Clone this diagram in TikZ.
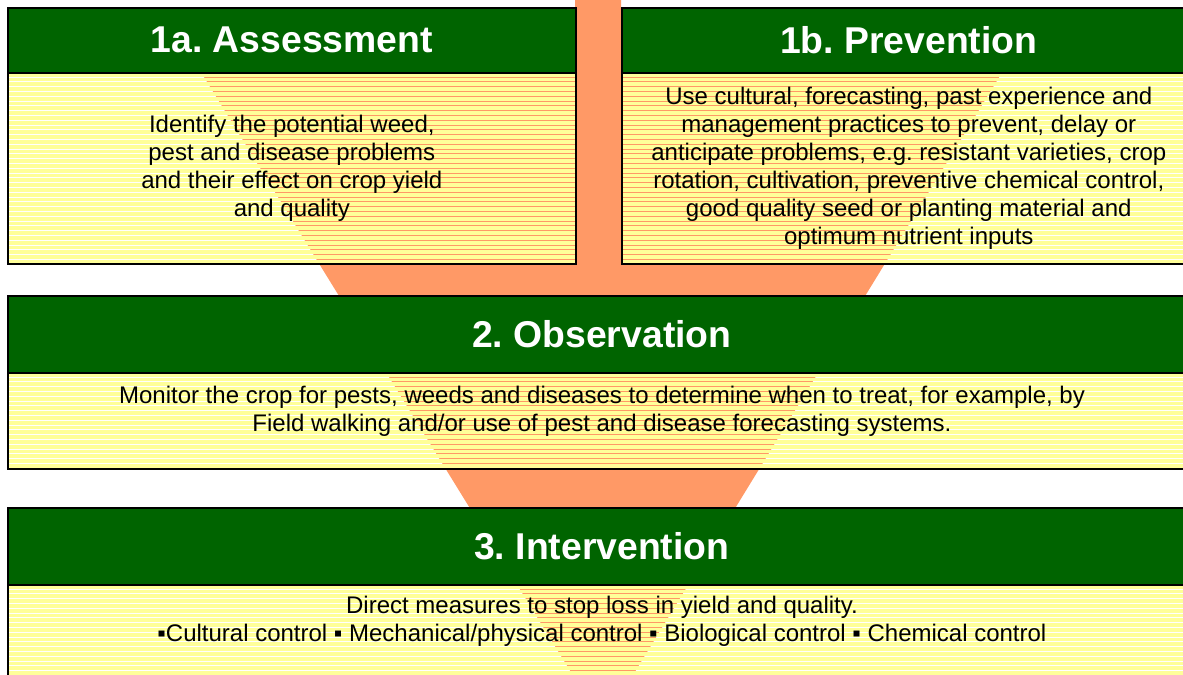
\documentclass[tikz,border=0pt]{standalone}
\usepackage{fontspec}
\setmainfont{Liberation Sans}
\usepackage{xcolor}
\usepackage{tikz}
\usetikzlibrary{positioning,calc}

\definecolor{headgreen}{RGB}{0,100,0}
\definecolor{funnelorange}{RGB}{255,153,102}
\definecolor{stripeyellow}{RGB}{255,255,153}

\begin{document}
\frenchspacing
\begin{tikzpicture}[x=0.75pt,y=-0.75pt,
		head/.style={draw=black,line width=1.2pt,fill=headgreen,text=white,font=\fontsize{28}{34}\selectfont\bfseries,anchor=north west,inner sep=0pt},
		panel/.style={draw=black,line width=1.2pt,anchor=north west,inner sep=0pt,
			path picture={\foreach \k in {0,...,42} \fill[stripeyellow] ($(path picture bounding box.north west)+(0,\k*4.8)$) rectangle ++(1200,3.8);}},
		bodytext/.style={align=center,font=\fontsize{18}{21}\selectfont,inner sep=0pt}]
		\clip (0,0) rectangle (1183,675);
		\fill[funnelorange] (575,0) -- (621,0) -- (621,30) -- (1028,30) -- (603,724) -- (175,30) -- (575,30) -- cycle;
		\node[panel,minimum width=426pt,minimum height=143.25pt] (b1a) at (7,72) {};
		\node[panel,minimum width=430.5pt,minimum height=143.25pt] (b1b) at (621,72) {};
		\node[panel,minimum width=891pt,minimum height=72pt] (b2) at (7,372) {};
		\node[panel,minimum width=891pt,minimum height=90pt] (b3) at (7,584) {};
		\node[head,minimum width=426pt,minimum height=48.75pt] (h1a) at (7,7) {1a. Assessment};
		\node[head,minimum width=430.5pt,minimum height=48.75pt] (h1b) at (621,7) {1b. Prevention};
		\node[head,minimum width=891pt,minimum height=57.75pt] (h2) at (7,295) {2. Observation};
		\node[head,minimum width=891pt,minimum height=57.75pt] (h3) at (7,507) {3. Intervention};
		\node[bodytext] (t1a) at (b1a.center) {Identify the potential weed,\\pest and disease problems\\and their effect on crop yield\\and quality};
		\node[bodytext] (t1b) at (b1b.center) {Use cultural, forecasting, past experience and\\management practices to prevent, delay or\\anticipate problems, e.g. resistant varieties, crop\\rotation, cultivation, preventive chemical control,\\good quality seed or planting material  and\\optimum nutrient inputs};
		\node[bodytext] (t2) at (602,411) {Monitor the crop for pests, weeds and diseases to determine when to treat, for example, by\\Field walking and/or use of pest and disease forecasting systems.};
		\node[bodytext] (t3) at (602,621) {Direct measures to stop loss in yield and quality.\\▪Cultural control ▪ Mechanical/physical control ▪ Biological control ▪ Chemical control};
\end{tikzpicture}
\end{document}
